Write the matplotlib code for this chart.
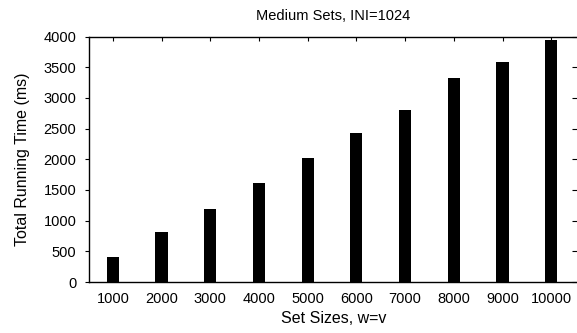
import matplotlib
matplotlib.use('Agg')
import matplotlib.pyplot as plt

# Tamaños de conjunto y tiempos (ms)
set_sizes = [1000, 2000, 3000, 4000, 5000, 6000, 7000, 8000, 9000, 10000]
running_times = [400, 810, 1195, 1620, 2015, 2425, 2810, 3330, 3590, 3940]

plt.rcParams['font.family'] = ['Liberation Sans', 'DejaVu Sans']

fig = plt.figure(figsize=(5.77, 3.33), dpi=100)
ax = fig.add_axes([89 / 577, 51 / 333, (578 - 89) / 577, (282 - 36.5) / 333])

pos = list(range(1, len(set_sizes) + 1))
ax.bar(pos, running_times, width=0.25, color='black')

ax.set_xlim(0.51, 10.55)
ax.set_ylim(0, 4000)
ax.set_yticks(range(0, 4001, 500))
ax.set_xticks(pos)
ax.set_xticklabels([str(s) for s in set_sizes])

for s in ax.spines.values():
    s.set_linewidth(1.0)

ax.tick_params(axis='y', which='both', direction='out', length=3, width=0.8,
               right=True, labelsize=10.5, pad=6)
ax.tick_params(axis='x', which='both', direction='in', length=3, width=0.8,
               top=True, bottom=False, labelsize=10.5, pad=7)
# las marcas de la derecha van hacia dentro
for t in ax.yaxis.get_major_ticks():
    t.tick2line.set_marker(matplotlib.lines.TICKLEFT)
    t.tick2line.set_markersize(4)

ax.set_title('Medium Sets, INI=1024', fontsize=10.5, pad=12)
ax.set_xlabel('Set Sizes, w=v', fontsize=11.5, labelpad=4)
ax.set_ylabel('Total Running Time (ms)', fontsize=11.5, labelpad=10)

fig.savefig('out.png', dpi=100)
